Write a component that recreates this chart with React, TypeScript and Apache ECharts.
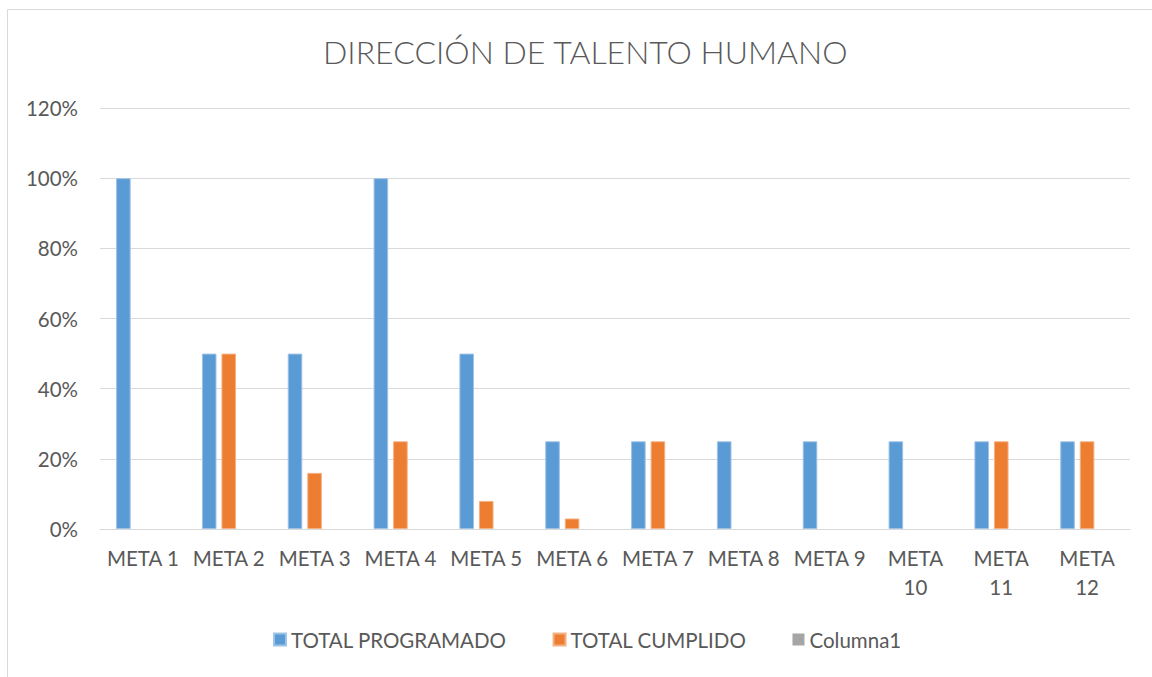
import React, { useEffect, useRef } from "react";
import * as echarts from "echarts";

const categories = ["META 1", "META 2", "META 3", "META 4", "META 5", "META 6", "META 7", "META 8", "META 9", "META 10", "META 11", "META 12"];
const totalProgramado = [100, 50, 50, 100, 50, 25, 25, 25, 25, 25, 25, 25];
const totalCumplido = [null, 50, 16, 25, 8, 3, 25, null, null, null, 25, 25];
const columna1 = [null, null, null, null, null, null, null, null, null, null, null, null];
const seriesNames = ["TOTAL PROGRAMADO", "TOTAL CUMPLIDO", "Columna1"];
const titleText = "DIRECCIÓN DE TALENTO HUMANO";

const FONT = "Lato";
const TEXT = "#595959";

export default function App() {
  const ref = useRef<HTMLDivElement>(null);
  useEffect(() => {
    if (!ref.current) return;
    const chart = echarts.init(ref.current, null, { renderer: "svg" });
    const barBase = { type: "bar", barWidth: "17%", barGap: "34%" };
    chart.setOption({
      animation: false,
      backgroundColor: "#ffffff",
      textStyle: { fontFamily: FONT, color: TEXT },
      title: {
        text: titleText,
        left: 318,
        top: 30,
        textStyle: { fontFamily: FONT, fontSize: 32, fontWeight: 300, color: TEXT },
      },
      graphic: [
        {
          type: "rect",
          shape: { x: 7.5, y: 9.5, width: 1200, height: 700 },
          style: { fill: "none", stroke: "#d9d9d9", lineWidth: 1 },
          silent: true,
        },
      ],
      legend: {
        bottom: 22,
        left: 268,
        itemWidth: 12,
        itemHeight: 12,
        itemGap: 46,
        icon: "rect",
        textStyle: { fontFamily: FONT, fontSize: 20.5, color: TEXT },
        data: seriesNames,
      },
      grid: { left: 100, right: 22, top: 108, bottom: 148 },
      xAxis: {
        type: "category",
        data: categories,
        axisLine: { show: true, lineStyle: { color: "#d9d9d9" } },
        axisTick: { show: false },
        axisLabel: {
          fontFamily: FONT,
          fontSize: 20.5,
          color: TEXT,
          margin: 14,
          lineHeight: 29,
          interval: 0,
          formatter: (v: string) => (v.length > 6 ? v.replace(" ", "\n") : v),
        },
      },
      yAxis: {
        type: "value",
        min: 0,
        max: 120,
        interval: 20,
        axisLine: { show: false },
        axisTick: { show: false },
        splitLine: { lineStyle: { color: "#d9d9d9", width: 1 } },
        axisLabel: { fontFamily: FONT, fontSize: 20.5, color: TEXT, margin: 22, formatter: "{value}%" },
      },
      series: [
        { ...barBase, name: seriesNames[0], data: totalProgramado, itemStyle: { color: "#5B9BD5", borderColor: "#9dc3e6", borderWidth: 1 } },
        { ...barBase, name: seriesNames[1], data: totalCumplido, itemStyle: { color: "#ED7D31", borderColor: "#f4b183", borderWidth: 1 } },
        { ...barBase, name: seriesNames[2], data: columna1, itemStyle: { color: "#A5A5A5" } },
      ],
    });
    return () => chart.dispose();
  }, []);
  return <div ref={ref} style={{ position: "fixed", left: 0, top: 0, width: 1152, height: 677 }} />;
}
